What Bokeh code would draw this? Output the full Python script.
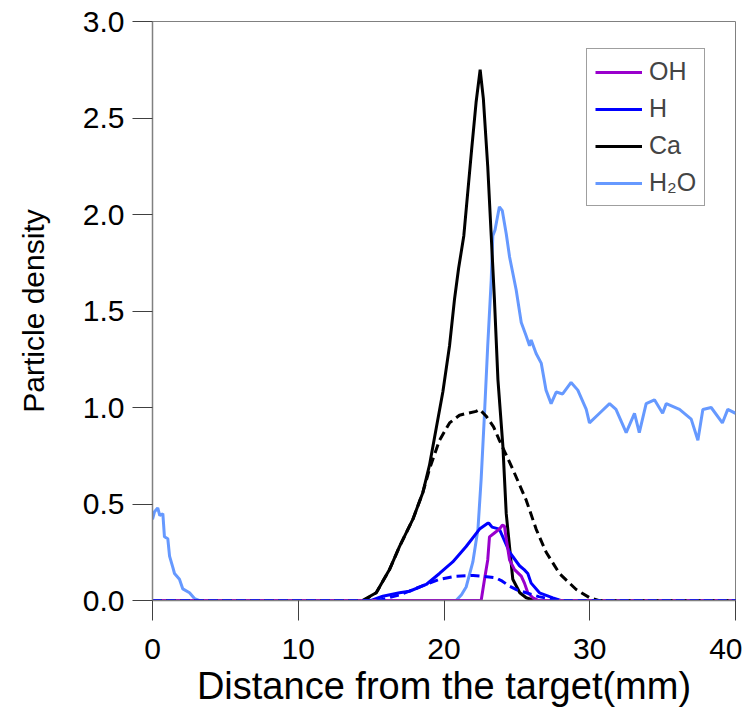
from bokeh.plotting import figure
from bokeh.models import Range1d, FixedTicker, NumeralTickFormatter, Legend, LegendItem
from bokeh.embed import file_html
from bokeh.resources import INLINE

# ---- data ----
h2o_x = [0, 0.14, 0.36, 0.5, 0.71, 0.82, 1.05, 1.17, 1.4, 1.51, 1.85, 2.08, 2.54, 2.88, 3.2,
         20.5, 20.83, 21.2, 21.52, 21.98, 22.33, 22.55, 22.78, 23.0, 23.24, 23.35, 23.5, 23.8,
         24.0, 24.27, 24.5, 24.95, 25.3, 25.64, 25.87, 25.98, 26.32, 26.67, 27.0, 27.35, 27.7,
         28.14, 28.72, 29.18, 29.76, 29.98, 30.67, 31.36, 31.8, 32.5, 33.07, 33.4, 33.87, 34.44,
         35.0, 35.25, 36.16, 36.96, 37.42, 37.76, 38.33, 39.1, 39.47, 40]
h2o_y = [0.42, 0.46, 0.48, 0.44, 0.45, 0.33, 0.32, 0.23, 0.17, 0.14, 0.11, 0.06, 0.04, 0.01, 0.0,
         0.0, 0.0, 0.03, 0.07, 0.2, 0.37, 0.63, 0.97, 1.32, 1.66, 1.89, 1.92, 2.04,
         2.02, 1.9, 1.78, 1.61, 1.44, 1.37, 1.32, 1.35, 1.28, 1.23, 1.09, 1.02, 1.08,
         1.07, 1.13, 1.09, 0.99, 0.92, 0.97, 1.02, 0.99, 0.87, 0.97, 0.87, 1.02, 1.04,
         0.97, 1.02, 0.99, 0.94, 0.83, 0.99, 1.0, 0.92, 0.99, 0.97]

ca_x = [0, 14.4, 15.35, 16.26, 16.95, 17.86, 18.55, 19.0, 19.46, 19.92, 20.38, 20.72, 21.0,
        21.36, 21.9, 22.2, 22.48, 22.7, 23.0, 23.24, 23.46, 23.7, 24.04, 24.27, 24.72, 25.2,
        25.64, 26.2, 40]
ca_y = [0, 0, 0.04, 0.16, 0.28, 0.42, 0.56, 0.70, 0.89, 1.08, 1.32, 1.56, 1.72,
        1.89, 2.34, 2.58, 2.75, 2.6, 2.25, 1.89, 1.56, 1.145, 0.80, 0.45, 0.11, 0.04,
        0.014, 0, 0]

ca_model_x = [0, 14.5, 15.35, 16.26, 16.95, 17.86, 18.55, 19.0, 19.23, 19.69, 20.38, 21.06, 21.6,
              22.2, 22.44, 22.9, 23.4, 23.8, 24.72, 25.64, 26.32, 27.01, 27.92, 29.07, 30.0,
              30.6, 40]
ca_model_y = [0, 0, 0.04, 0.16, 0.28, 0.42, 0.56, 0.68, 0.73, 0.83, 0.92, 0.96, 0.97,
              0.98, 0.99, 0.955, 0.9, 0.83, 0.68, 0.52, 0.37, 0.25, 0.14, 0.057, 0.014,
              0, 0]

h_x = [0, 15.0, 15.8, 16.95, 17.63, 18.78, 19.69, 20.6, 21.52, 22.44, 23.0, 23.08, 23.3, 23.8,
       24.5, 25.18, 25.5, 25.75, 25.98, 26.55, 27.47, 28, 40]
h_y = [0, 0, 0.022, 0.04, 0.048, 0.083, 0.14, 0.2, 0.28, 0.37, 0.40, 0.40, 0.38, 0.37,
       0.25, 0.18, 0.16, 0.14, 0.09, 0.04, 0.014, 0, 0]

h_model_x = [0, 15.5, 16, 17, 18, 19, 19.69, 20.84, 22.0, 22.66, 23.57, 24.0, 24.5, 25.0,
             25.64, 26.5, 27.5, 28, 40]
h_model_y = [0, 0, 0.01, 0.03, 0.06, 0.09, 0.11, 0.126, 0.13, 0.126, 0.117, 0.1, 0.074, 0.055,
             0.04, 0.02, 0.005, 0, 0]

oh_x = [0, 22.55, 22.78, 23.0, 23.12, 23.46, 23.8, 24.0, 24.15, 24.27, 24.5, 24.84, 25.3,
        25.52, 25.75, 26.1, 26.5, 40]
oh_y = [0, 0, 0.11, 0.21, 0.33, 0.35, 0.37, 0.39, 0.385, 0.32, 0.21, 0.16, 0.126,
        0.09, 0.04, 0.014, 0, 0]

x_ticks = [0, 10, 20, 30, 40]
y_ticks = [0.0, 0.5, 1.0, 1.5, 2.0, 2.5, 3.0]
legend_labels = ["OH", "H", "Ca", "H\u2082O"]

# ---- styling ----
FONT = "Liberation Sans"
C_OH = "#9900CC"
C_H = "#0000FF"
C_CA = "#000000"
C_H2O = "#6699FF"

p = figure(width=742, height=709, x_range=Range1d(0, 40), y_range=Range1d(0, 3),
           output_backend="svg", toolbar_location=None,
           min_border_left=152, min_border_right=7, min_border_top=21, min_border_bottom=109)
p.grid.visible = False
p.outline_line_color = "#808080"
p.outline_line_width = 1
p.background_fill_color = "white"
p.border_fill_color = "white"

r_h2o = p.line(h2o_x, h2o_y, line_color=C_H2O, line_width=3)
r_ca = p.line(ca_x, ca_y, line_color=C_CA, line_width=3)
r_h = p.line(h_x, h_y, line_color=C_H, line_width=3)
r_oh = p.line(oh_x, oh_y, line_color=C_OH, line_width=3)
p.line(ca_model_x, ca_model_y, line_color=C_CA, line_width=3, line_dash="9 5")
p.line(h_model_x, h_model_y, line_color=C_H, line_width=3, line_dash="9 5")

for ax in (p.xaxis, p.yaxis):
    ax.axis_line_color = "#808080"
    ax.axis_line_width = 1.5
    ax.major_tick_line_color = "#404040"
    ax.major_tick_in = 0
    ax.major_tick_out = 20
    ax.minor_tick_line_color = None
    ax.major_label_text_font = FONT
    ax.major_label_text_font_size = "30px"
    ax.major_label_text_color = "black"
    ax.axis_label_text_font = FONT
    ax.axis_label_text_font_style = "normal"
    ax.axis_label_text_color = "black"

p.xaxis.ticker = FixedTicker(ticks=x_ticks)
p.yaxis.ticker = FixedTicker(ticks=y_ticks)
p.yaxis.formatter = NumeralTickFormatter(format="0.0")
p.xaxis.axis_label = "Distance from the target(mm)"
p.yaxis.axis_label = "Particle density"
p.xaxis.axis_label_text_font_size = "38px"
p.yaxis.axis_label_text_font_size = "30px"
p.xaxis.major_label_standoff = 18
p.yaxis.major_label_standoff = 8
p.xaxis.axis_label_standoff = 3
p.yaxis.axis_label_standoff = 30

legend = Legend(items=[LegendItem(label=legend_labels[0], renderers=[r_oh]),
                       LegendItem(label=legend_labels[1], renderers=[r_h]),
                       LegendItem(label=legend_labels[2], renderers=[r_ca]),
                       LegendItem(label=legend_labels[3], renderers=[r_h2o])],
                location=(434, 394))
legend.label_text_font = FONT
legend.label_text_font_size = "25px"
legend.glyph_width = 47
legend.glyph_height = 20
legend.label_height = 20
legend.label_standoff = 7
legend.spacing = 8
legend.padding = 8
legend.border_line_color = "#404040"
legend.border_line_width = 1
legend.background_fill_color = "white"
legend.background_fill_alpha = 1.0
p.add_layout(legend)

open("out.html", "w").write(file_html(p, INLINE))
